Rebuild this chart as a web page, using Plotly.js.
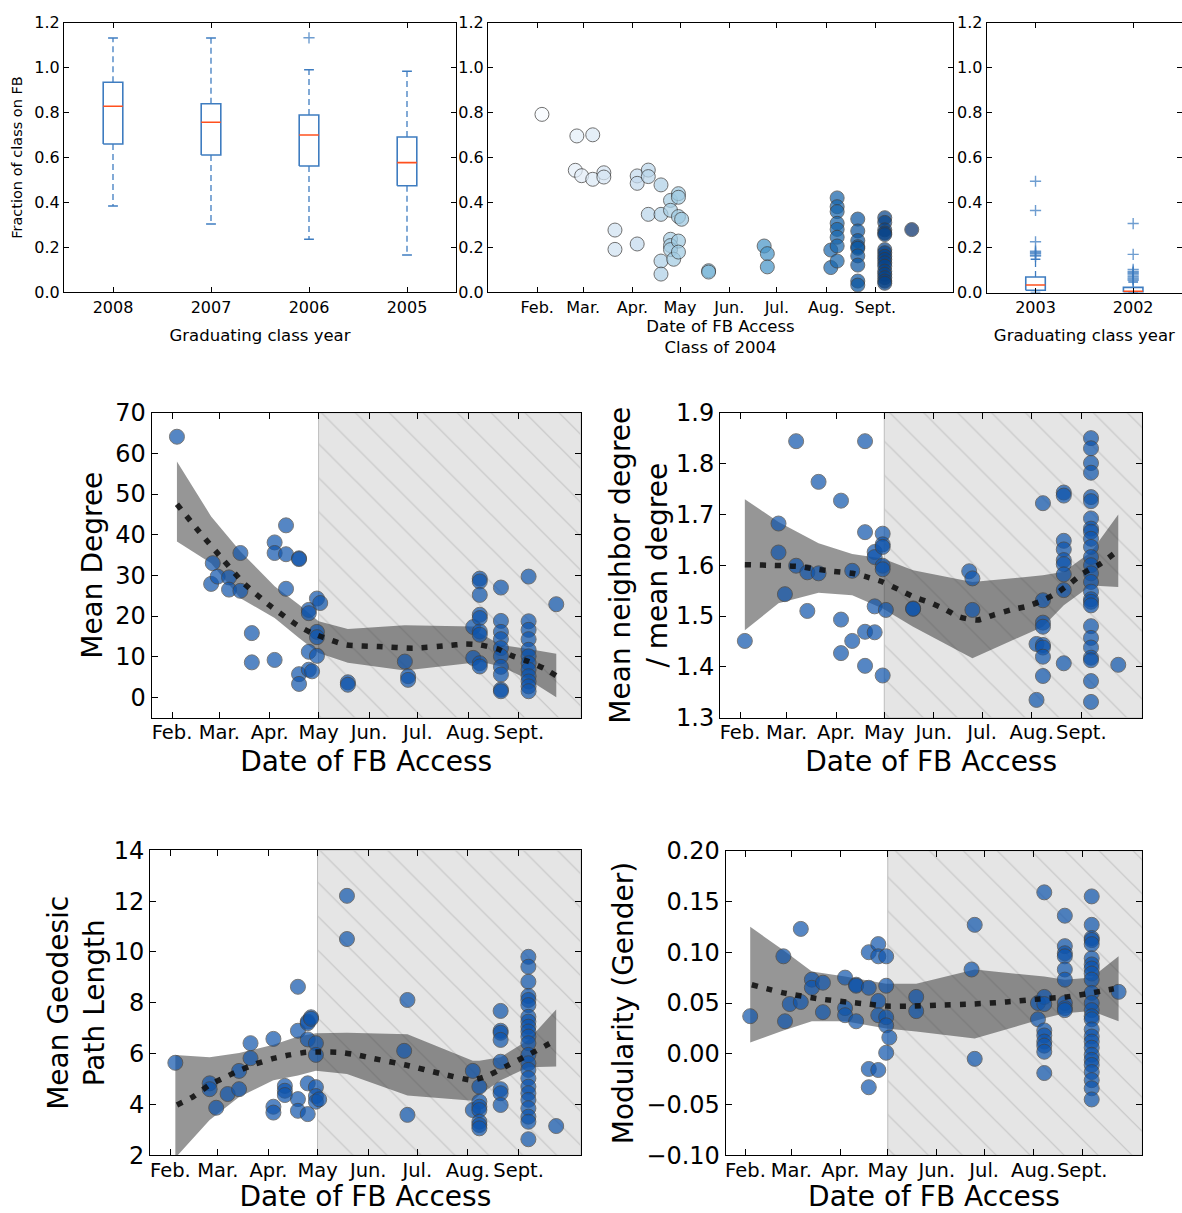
<!DOCTYPE html>
<html><head><meta charset="utf-8">
<script src="https://cdn.plot.ly/plotly-3.0.1.min.js"></script>
<style>html,body{margin:0;padding:0;background:#fff}#chart{width:1182px;height:1213px}</style>
</head><body><div id="chart"></div>
<script>
// ---------------- DATA ----------------
const monthTicks = [31, 60, 91, 121, 152, 182, 213, 244];   // day of year 2004
const monthLabels = ['Feb.', 'Mar.', 'Apr.', 'May', 'Jun.', 'Jul.', 'Aug.', 'Sept.'];
const hatchStartDay = 121;

// box plots (left: 2008-2005, right: 2003-2002)
const yearsLeft = ['2008', '2007', '2006', '2005'];
const q1Left = [0.660, 0.611, 0.562, 0.474];
const medLeft = [0.828, 0.757, 0.700, 0.577];
const q3Left = [0.935, 0.839, 0.789, 0.691];
const loLeft = [0.384, 0.304, 0.236, 0.166];
const hiLeft = [1.132, 1.132, 0.991, 0.984];
const flierYearLeft = ['2006'];
const flierValLeft = [1.133];

const yearsRight = ['2003', '2002'];
const q1Right = [0.010, 0.001];
const medRight = [0.034, 0.006];
const q3Right = [0.069, 0.023];
const loRight = [0.000, 0.000];
const hiRight = [0.148, 0.047];
const flierYearRight = ['2003', '2003', '2003', '2003', '2003', '2003', '2003', '2003',
  '2002', '2002', '2002', '2002', '2002', '2002', '2002', '2002', '2002', '2002', '2002'];
const flierValRight = [0.162, 0.166, 0.174, 0.178, 0.184, 0.226, 0.365, 0.495,
  0.055, 0.060, 0.065, 0.071, 0.078, 0.085, 0.089, 0.095, 0.103, 0.170, 0.307];

// Class of 2004: fraction on FB vs date of access
const fracDay = [34, 56, 66, 55, 59, 66, 73, 73, 80, 80,
  94, 94, 101, 101, 94, 101, 109, 109, 109, 109,
  115, 115, 115, 115, 115, 117, 120, 120, 120, 122, 120, 120,
  139, 139, 174, 176, 176,
  216, 216, 220, 220, 220, 220, 220, 220, 220, 220,
  233, 233, 233, 233, 233, 233, 233, 233, 233,
  250, 250, 250, 250, 250, 250, 250, 250, 250, 250, 250, 250, 250, 250, 250, 250,
  267];
const fracVal = [0.792, 0.696, 0.701, 0.543, 0.519, 0.503, 0.532, 0.513, 0.277, 0.191,
  0.518, 0.485, 0.544, 0.515, 0.215, 0.347, 0.478, 0.347, 0.139, 0.081,
  0.409, 0.365, 0.236, 0.208, 0.190, 0.147, 0.439, 0.423, 0.337, 0.325, 0.228, 0.179,
  0.096, 0.090, 0.206, 0.172, 0.113,
  0.188, 0.110, 0.420, 0.381, 0.359, 0.307, 0.280, 0.245, 0.206, 0.139,
  0.326, 0.273, 0.230, 0.203, 0.196, 0.162, 0.121, 0.050, 0.032,
  0.332, 0.311, 0.278, 0.264, 0.257, 0.190, 0.176, 0.160, 0.146, 0.131, 0.116, 0.094, 0.080, 0.065, 0.050, 0.040,
  0.279];

// Mean degree
const degDay = [34, 56, 55, 59, 66, 66, 73, 73, 80, 80,
  94, 94, 94, 101, 101, 101, 109, 109, 109, 109,
  115, 115, 115, 115, 117, 120, 122, 120, 120, 120,
  139, 139, 174, 176, 176, 216, 216,
  220, 220, 220, 220, 220, 220, 220, 220, 220,
  233, 233, 233, 233, 233, 233, 233, 233, 233, 233,
  250, 250, 250, 250, 250, 250, 250, 250, 250, 250, 250, 250,
  267];
const degVal = [64.1, 33.0, 27.9, 29.7, 29.5, 26.5, 35.5, 26.2, 15.8, 8.6,
  38.1, 35.5, 9.2, 42.3, 35.2, 26.7, 34.2, 34.0, 5.7, 3.3,
  21.5, 20.7, 11.2, 6.8, 6.4, 24.3, 23.2, 16.1, 14.8, 10.2,
  3.7, 3.1, 8.8, 5.2, 4.3, 17.3, 9.7,
  29.2, 28.5, 25.2, 20.3, 19.5, 16.2, 15.4, 8.4, 7.6,
  27.0, 18.8, 16.1, 14.3, 12.1, 10.1, 7.5, 5.6, 1.9, 1.5,
  29.7, 18.7, 16.6, 14.3, 11.7, 10.1, 8.4, 6.8, 5.2, 3.9, 2.7, 1.5,
  22.9];
const degTrendDay = [34, 48, 62, 75, 91, 108, 117, 127, 138, 158, 179, 200, 211, 220, 231, 240, 250, 260, 267];
const degTrendVal = [47.5, 40.6, 34.0, 28.1, 22.6, 17.7, 15.8, 14.3, 12.9, 12.5, 12.1, 12.7, 13.1, 12.9, 11.9, 10.2, 8.8, 7.0, 5.3];
const degBandDay = [34, 55, 73, 94, 109, 121, 139, 174, 216, 220, 233, 250, 267];
const degBandHi = [58.0, 44.5, 35.9, 27.3, 22.8, 18.7, 16.8, 17.7, 17.4, 15.8, 12.9, 11.9, 10.7];
const degBandLo = [38.3, 33.0, 24.4, 19.5, 14.6, 10.9, 8.5, 6.6, 8.5, 8.8, 7.6, 4.3, 0.0];

// Mean neighbor degree / mean degree
const nbrDay = [34, 55, 55, 59, 66, 66, 73, 73, 80, 80,
  94, 94, 94, 101, 101, 109, 109, 109, 109,
  115, 115, 115, 115, 120, 120, 120, 120, 120, 120, 122,
  139, 139, 174, 176, 176, 216, 216,
  220, 220, 220, 220, 220, 220, 220, 220,
  233, 233, 233, 233, 233, 233, 233, 233, 233,
  250, 250, 250, 250, 250, 250, 250, 250, 250, 250, 250, 250, 250,
  250, 250, 250, 250, 250, 250, 250, 250, 250, 250, 250, 250, 250,
  267];
const nbrVal = [1.451, 1.682, 1.625, 1.543, 1.844, 1.599, 1.586, 1.510, 1.764, 1.584,
  1.727, 1.493, 1.427, 1.589, 1.451, 1.844, 1.665, 1.469, 1.402,
  1.626, 1.616, 1.519, 1.468, 1.662, 1.641, 1.636, 1.599, 1.592, 1.383, 1.512,
  1.515, 1.514, 1.588, 1.574, 1.512, 1.445, 1.335,
  1.722, 1.531, 1.487, 1.479, 1.443, 1.438, 1.420, 1.382,
  1.743, 1.737, 1.648, 1.631, 1.610, 1.602, 1.582, 1.551, 1.407,
  1.850, 1.830, 1.801, 1.782, 1.734, 1.726, 1.692, 1.672, 1.666, 1.652, 1.636, 1.616, 1.600,
  1.584, 1.567, 1.548, 1.533, 1.528, 1.521, 1.480, 1.457, 1.438, 1.418, 1.413, 1.372, 1.331,
  1.404];
const nbrTrendDay = [34, 48, 58, 69, 79, 89, 101, 110, 120, 130, 139, 149, 159, 168, 179, 189, 200, 210, 220, 229, 237, 245, 256, 264];
const nbrTrendVal = [1.601, 1.600, 1.599, 1.597, 1.592, 1.588, 1.584, 1.577, 1.567, 1.552, 1.538, 1.527, 1.513, 1.498, 1.492, 1.502, 1.512, 1.519, 1.531, 1.546, 1.564, 1.584, 1.603, 1.622];
const nbrBandDay = [34, 55, 80, 101, 120, 139, 176, 220, 233, 250, 267];
const nbrBandHi = [1.730, 1.685, 1.643, 1.622, 1.613, 1.590, 1.567, 1.580, 1.587, 1.626, 1.700];
const nbrBandLo = [1.472, 1.525, 1.546, 1.541, 1.515, 1.479, 1.417, 1.479, 1.521, 1.560, 1.557];

// Mean geodesic path length
const geoDay = [34, 55, 55, 59, 66, 73, 73, 80, 80,
  94, 94, 94, 101, 101, 101, 109, 109, 109, 109,
  115, 115, 115, 115, 115, 117, 117, 120, 120, 120, 120, 120, 122,
  139, 139, 174, 176, 176, 216, 216,
  220, 220, 220, 220, 220, 220, 220,
  233, 233, 233, 233, 233, 233, 233, 233,
  250, 250, 250, 250, 250, 250, 250, 250, 250, 250, 250, 250,
  250, 250, 250, 250, 250, 250, 250, 250, 250, 250, 250,
  267];
const geoVal = [5.64, 4.83, 4.60, 3.87, 4.41, 5.32, 4.60, 6.41, 5.82,
  6.58, 3.91, 3.68, 4.73, 4.54, 4.37, 8.63, 6.90, 4.21, 3.75,
  7.26, 7.20, 6.56, 4.83, 3.62, 7.43, 7.37, 6.41, 5.95, 4.68, 4.33, 4.11, 4.20,
  12.21, 10.51, 6.11, 8.11, 3.59, 5.32, 3.78,
  4.70, 4.11, 3.91, 3.78, 3.32, 3.19, 3.06,
  7.68, 6.90, 6.82, 6.54, 5.68, 4.60, 4.44, 3.98,
  9.81, 9.42, 8.83, 8.27, 8.11, 7.91, 7.45, 7.26, 7.06, 6.87, 6.67, 6.41,
  5.95, 5.62, 5.36, 5.03, 4.70, 4.44, 4.18, 3.85, 3.52, 3.32, 2.63,
  3.15];
const geoTrendDay = [35, 45, 55, 65, 74, 83, 94, 104, 114, 120, 134, 145, 155, 175, 196, 216, 226, 236, 250, 265];
const geoTrendVal = [3.98, 4.31, 4.77, 5.09, 5.36, 5.59, 5.81, 5.95, 6.05, 6.06, 6.05, 5.95, 5.81, 5.55, 5.22, 4.96, 5.16, 5.49, 5.95, 6.47];
const geoBandDay = [34, 55, 73, 94, 109, 120, 139, 176, 216, 220, 233, 250, 267];
const geoBandHi = [5.95, 5.86, 6.02, 6.35, 6.67, 6.80, 6.82, 6.76, 5.72, 5.72, 5.86, 6.54, 7.74];
const geoBandLo = [1.90, 3.39, 4.29, 4.95, 5.14, 5.33, 5.20, 4.35, 4.15, 4.37, 4.95, 5.46, 5.49];

// Modularity (gender)
const modDay = [34, 55, 56, 59, 66, 66, 73, 73, 80, 80,
  94, 94, 94, 101, 101, 101, 109, 109, 109, 109,
  115, 115, 115, 115, 115, 120, 120, 120, 120, 120, 122,
  139, 139, 174, 176, 176, 216, 216,
  220, 220, 220, 220, 220, 220, 220, 220, 220,
  233, 233, 233, 233, 233, 233, 233, 233, 233,
  250, 250, 250, 250, 250, 250, 250, 250, 250, 250, 250, 250, 250,
  250, 250, 250, 250, 250, 250, 250, 250, 250, 250, 250, 250, 250,
  267];
const modVal = [0.037, 0.096, 0.032, 0.049, 0.123, 0.051, 0.073, 0.065, 0.070, 0.041,
  0.075, 0.045, 0.038, 0.068, 0.067, 0.032, 0.100, 0.065, -0.015, -0.033,
  0.108, 0.096, 0.052, 0.038, -0.016, 0.096, 0.067, 0.036, 0.028, 0.001, 0.016,
  0.056, 0.042, 0.083, 0.127, -0.005, 0.050, 0.034,
  0.159, 0.056, 0.049, 0.023, 0.018, 0.012, 0.008, 0.002, -0.019,
  0.136, 0.106, 0.099, 0.096, 0.083, 0.073, 0.050, 0.045, 0.043,
  0.155, 0.127, 0.114, 0.112, 0.108, 0.094, 0.088, 0.084, 0.079, 0.073, 0.060, 0.050, 0.043,
  0.037, 0.034, 0.024, 0.017, 0.012, 0.006, -0.001, -0.006, -0.011, -0.018, -0.026, -0.034, -0.045,
  0.061];
const modTrendDay = [35, 55, 78, 95, 108, 120, 137, 154, 175, 196, 217, 234, 250, 264];
const modTrendVal = [0.068, 0.060, 0.054, 0.051, 0.049, 0.047, 0.047, 0.048, 0.049, 0.051, 0.054, 0.056, 0.060, 0.064];
const modBandDay = [34, 55, 73, 94, 120, 139, 176, 220, 233, 250, 267];
const modBandHi = [0.125, 0.102, 0.081, 0.076, 0.069, 0.069, 0.083, 0.076, 0.073, 0.075, 0.096];
const modBandLo = [0.011, 0.023, 0.032, 0.032, 0.025, 0.022, 0.015, 0.035, 0.040, 0.042, 0.032];

// ---------------- LAYOUT / STYLE ----------------
const W = 1182, H = 1213;
const FONT = 'DejaVu Sans, Liberation Sans, sans-serif';
function dom(x0, x1, y0, y1) { return { x: [x0 / W, Math.min(1, x1 / W)], y: [1 - y1 / H, 1 - y0 / H] }; }
const P = {
  1: dom(64, 456, 22.7, 292.3),
  2: dom(488, 953, 22.7, 292.3),
  3: dom(986.7, 1182.7, 22.7, 292.6),
  4: dom(151.7, 580.7, 412.7, 717.7),
  5: dom(720, 1142.3, 412.7, 717.7),
  6: dom(150, 580.7, 850.3, 1155.3),
  7: dom(725.7, 1142.3, 850.7, 1155.3)
};
const BOX_BLUE = 'rgb(62,124,192)';
const MED_RED = 'rgb(255,80,30)';
const POINT_BLUE = 'rgb(14,84,172)';
const bluesScale = [[0, '#f7fbff'], [0.125, '#deebf7'], [0.25, '#c6dbef'], [0.375, '#9ecae1'],
  [0.5, '#6baed6'], [0.625, '#4292c6'], [0.75, '#2171b5'], [0.875, '#08519c'], [1, '#08306b']];

const BOTTOM_RANGE = [18.5, 282];
const TOP_RANGE = [0, 293];

function ax(extra) {
  return Object.assign({
    showline: true, linecolor: '#000', linewidth: 1, mirror: 'allticks',
    ticks: 'inside', ticklen: 5, tickcolor: '#000', tickwidth: 1, tickangle: 0,
    showgrid: false, zeroline: false, fixedrange: true, autorange: false,
    tickfont: { family: FONT, size: 16, color: '#000' }
  }, extra);
}
function ref(k) { return { xaxis: k === 1 ? 'x' : 'x' + k, yaxis: k === 1 ? 'y' : 'y' + k }; }

const traces = [];

function addBoxes(k, years, q1, med, q3, lo, hi, fYears, fVals) {
  const w = 0.1, cw = 0.05;
  const bx = [], by = [], wx = [], wy = [], cx = [], cy = [], mx = [], my = [];
  years.forEach((yr, i) => {
    const p = i + 1;
    bx.push(p - w, p + w, p + w, p - w, p - w, null); by.push(q1[i], q1[i], q3[i], q3[i], q1[i], null);
    wx.push(p, p, null, p, p, null); wy.push(q3[i], hi[i], null, q1[i], lo[i], null);
    cx.push(p - cw, p + cw, null, p - cw, p + cw, null); cy.push(hi[i], hi[i], null, lo[i], lo[i], null);
    mx.push(p - w, p + w, null); my.push(med[i], med[i], null);
  });
  const r = ref(k);
  traces.push(Object.assign({ type: 'scatter', mode: 'lines', x: wx, y: wy, hoverinfo: 'skip',
    line: { color: BOX_BLUE, width: 1.3, dash: '6px,4px' }, cliponaxis: false }, r));
  traces.push(Object.assign({ type: 'scatter', mode: 'lines', x: cx, y: cy, hoverinfo: 'skip',
    line: { color: BOX_BLUE, width: 1.5 }, cliponaxis: false }, r));
  traces.push(Object.assign({ type: 'scatter', mode: 'lines', x: bx, y: by, hoverinfo: 'skip',
    line: { color: BOX_BLUE, width: 1.6 }, cliponaxis: false }, r));
  traces.push(Object.assign({ type: 'scatter', mode: 'lines', x: mx, y: my, hoverinfo: 'skip',
    line: { color: MED_RED, width: 1.6 }, cliponaxis: false }, r));
  traces.push(Object.assign({ type: 'scatter', mode: 'markers', x: fYears.map(y => years.indexOf(y) + 1), y: fVals,
    marker: { symbol: 'cross-thin-open', size: 8, color: BOX_BLUE, opacity: 0.75, line: { color: BOX_BLUE, width: 1.4 } },
    hoverinfo: 'skip', cliponaxis: false }, r));
}

function addPanel(k, yRange, day, val, bandDay, bandHi, bandLo, trendDay, trendVal) {
  const r = ref(k);
  const x0 = hatchStartDay, x1 = BOTTOM_RANGE[1];
  traces.push(Object.assign({ type: 'scatter', mode: 'lines', hoverinfo: 'skip',
    x: [x0, x1, x1, x0, x0], y: [yRange[0], yRange[0], yRange[1], yRange[1], yRange[0]],
    fill: 'toself', fillcolor: '#e5e5e5',
    fillpattern: { shape: '\\', bgcolor: '#e5e5e5', fgcolor: '#c6c6c6', size: 24, solidity: 0.05 },
    line: { color: '#bdbdbd', width: 1 } }, r));
  traces.push(Object.assign({ type: 'scatter', mode: 'lines', hoverinfo: 'skip',
    x: bandDay.concat(bandDay.slice().reverse()), y: bandHi.concat(bandLo.slice().reverse()),
    fill: 'toself', fillcolor: 'rgba(45,45,45,0.5)', line: { width: 0, color: 'rgba(0,0,0,0)' } }, r));
  traces.push(Object.assign({ type: 'scatter', mode: 'markers', x: day, y: val, hoverinfo: 'skip',
    marker: { size: 15, color: POINT_BLUE, opacity: 0.7, line: { color: '#404040', width: 1 } } }, r));
  traces.push(Object.assign({ type: 'scatter', mode: 'lines', x: trendDay, y: trendVal, hoverinfo: 'skip',
    line: { color: 'rgba(15,15,15,0.88)', width: 5.5, dash: '6px,9px', shape: 'spline', smoothing: 0.6 } }, r));
}

// Panel 1 & 3: box plots
addBoxes(1, yearsLeft, q1Left, medLeft, q3Left, loLeft, hiLeft, flierYearLeft, flierValLeft);
addBoxes(3, yearsRight, q1Right, medRight, q3Right, loRight, hiRight, flierYearRight, flierValRight);

// Panel 2: class of 2004 scatter
traces.push(Object.assign({ type: 'scatter', mode: 'markers', x: fracDay, y: fracVal, hoverinfo: 'skip',
  marker: { size: 14, color: fracDay, colorscale: bluesScale, cmin: 34, cmax: 267, showscale: false,
    opacity: 0.72, line: { color: '#3a3a3a', width: 1 } } }, ref(2)));

// Panels 4-7
const R4 = [-5, 70], R5 = [1.3, 1.9], R6 = [2, 14], R7 = [-0.10, 0.20];
addPanel(4, R4, degDay, degVal, degBandDay, degBandHi, degBandLo, degTrendDay, degTrendVal);
addPanel(5, R5, nbrDay, nbrVal, nbrBandDay, nbrBandHi, nbrBandLo, nbrTrendDay, nbrTrendVal);
addPanel(6, R6, geoDay, geoVal, geoBandDay, geoBandHi, geoBandLo, geoTrendDay, geoTrendVal);
addPanel(7, R7, modDay, modVal, modBandDay, modBandHi, modBandLo, modTrendDay, modTrendVal);

const smallTitle = s => ({ family: FONT, size: s, color: '#000' });
const fracTicks = [0, 0.2, 0.4, 0.6, 0.8, 1.0, 1.2];
function pad(r) { const e = (r[1] - r[0]) * 1e-4; return [r[0] - e, r[1] + e]; }

const monthAxisBottom = {
  tickvals: monthTicks, ticktext: monthLabels, range: BOTTOM_RANGE,
  tickfont: { family: FONT, size: 19.5, color: '#000' }, ticklen: 6, ticklabelstandoff: -3,
  title: { text: 'Date of FB Access', font: smallTitle(28), standoff: 8 }
};
const bigY = extra => ax(Object.assign({ ticklen: 6, tickfont: { family: FONT, size: 24, color: '#000' } }, extra));

const layout = {
  width: W, height: H, margin: { l: 0, r: 0, t: 0, b: 0 }, showlegend: false,
  paper_bgcolor: '#fff', plot_bgcolor: '#fff', font: { family: FONT, color: '#000' },
  xaxis: ax({ domain: P[1].x, anchor: 'y', range: [0.5, 4.5], tickvals: [1, 2, 3, 4], ticktext: yearsLeft,
    title: { text: 'Graduating class year', font: smallTitle(16.5), standoff: 13 } }),
  yaxis: ax({ domain: P[1].y, anchor: 'x', range: pad([0, 1.2]), tickvals: fracTicks, tickformat: '.1f',
    title: { text: 'Fraction of class on FB', font: smallTitle(14.5), standoff: 8 } }),
  xaxis2: ax({ domain: P[2].x, anchor: 'y2', range: TOP_RANGE, tickvals: monthTicks, ticktext: monthLabels,
    title: { text: 'Date of FB Access<br>Class of 2004', font: smallTitle(16.5), standoff: 4 } }),
  yaxis2: ax({ domain: P[2].y, anchor: 'x2', range: pad([0, 1.2]), tickvals: fracTicks, tickformat: '.1f' }),
  xaxis3: ax({ domain: P[3].x, anchor: 'y3', range: [0.5, 2.5], tickvals: [1, 2], ticktext: yearsRight,
    title: { text: 'Graduating class year', font: smallTitle(16.5), standoff: 13 } }),
  yaxis3: ax({ domain: P[3].y, anchor: 'x3', range: pad([0, 1.2]), tickvals: fracTicks, tickformat: '.1f' }),
  xaxis4: ax(Object.assign({ domain: P[4].x, anchor: 'y4' }, monthAxisBottom)),
  yaxis4: bigY({ domain: P[4].y, anchor: 'x4', range: pad(R4), tickvals: [0, 10, 20, 30, 40, 50, 60, 70],
    title: { text: 'Mean Degree', font: smallTitle(28), standoff: 4 } }),
  xaxis5: ax(Object.assign({ domain: P[5].x, anchor: 'y5' }, monthAxisBottom)),
  yaxis5: bigY({ domain: P[5].y, anchor: 'x5', range: pad(R5), tickvals: [1.3, 1.4, 1.5, 1.6, 1.7, 1.8, 1.9], tickformat: '.1f',
    title: { text: 'Mean neighbor degree<br>/ mean degree', font: smallTitle(28), standoff: 0 } }),
  xaxis6: ax(Object.assign({ domain: P[6].x, anchor: 'y6' }, monthAxisBottom)),
  yaxis6: bigY({ domain: P[6].y, anchor: 'x6', range: pad(R6), tickvals: [2, 4, 6, 8, 10, 12, 14],
    title: { text: 'Mean Geodesic<br>Path Length', font: smallTitle(28), standoff: 0 } }),
  xaxis7: ax(Object.assign({ domain: P[7].x, anchor: 'y7' }, monthAxisBottom)),
  yaxis7: bigY({ domain: P[7].y, anchor: 'x7', range: pad(R7), tickvals: [-0.10, -0.05, 0, 0.05, 0.10, 0.15, 0.20], tickformat: '.2f',
    title: { text: 'Modularity (Gender)', font: smallTitle(28), standoff: 4 } })
};

Plotly.newPlot('chart', traces, layout, { staticPlot: true, displayModeBar: false });
</script></body></html>
